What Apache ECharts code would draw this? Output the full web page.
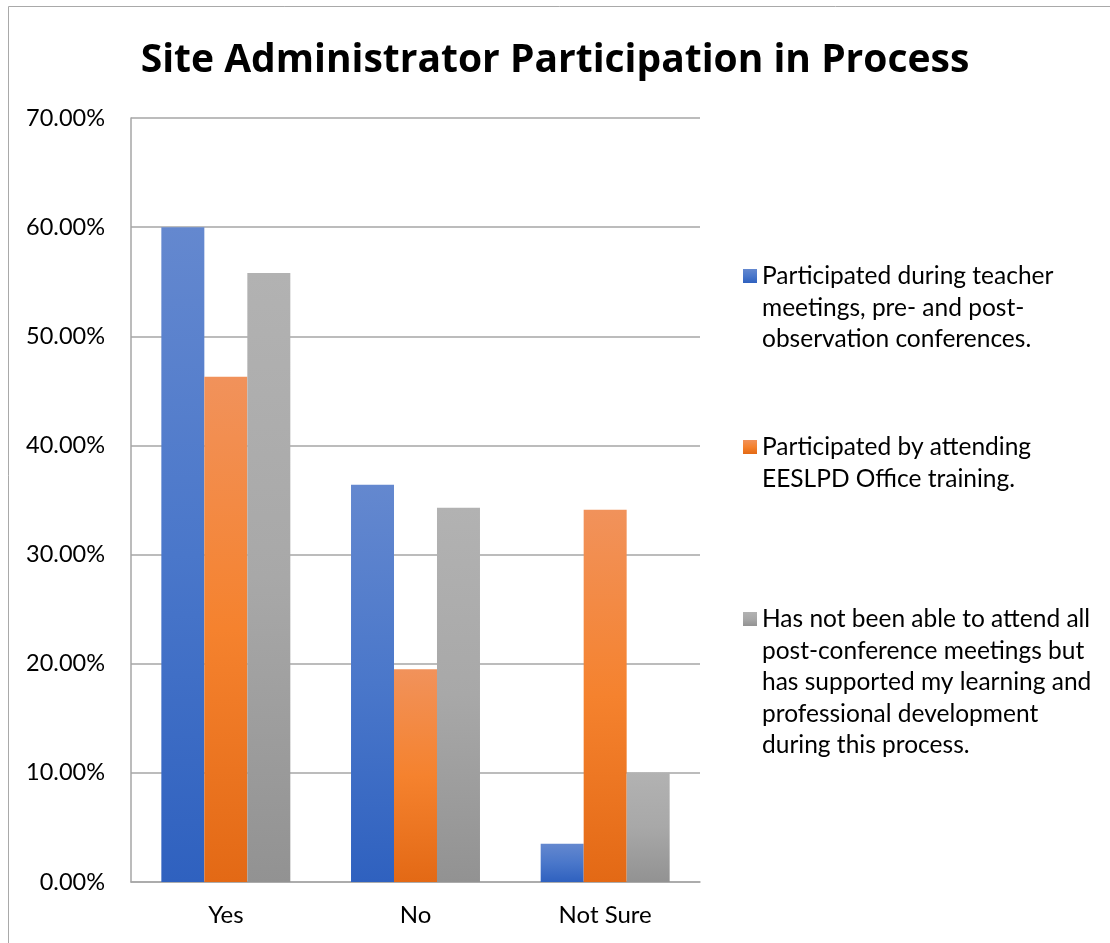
<!DOCTYPE html>
<html lang="en">
<head>
    <meta charset="UTF-8">
    <title>Site Administrator Participation in Process</title>
    <script src="https://cdn.jsdelivr.net/npm/echarts@6/dist/echarts.min.js"></script>
    <style>
        html, body {
            margin: 0;
            padding: 0;
            background: #fff;
        }
        #main {
            width: 1110px;
            height: 943px;
        }
    </style>
</head>
<body>
<div id="main"></div>
<script>
    // data (percent)
    var categories = ['Yes', 'No', 'Not Sure'];
    var meetingsVals = [60.0, 36.4, 3.5];
    var trainingVals = [46.3, 19.5, 34.1];
    var supportedVals = [55.8, 34.3, 10.0];
    var seriesNames = [
        'Participated during teacher meetings, pre- and post-observation conferences.',
        'Participated by attending EESLPD Office training.',
        'Has not been able to attend all post-conference meetings but has supported my learning and professional development during this process.'
    ];
    var legendLines = [
        ['Participated during teacher', 'meetings, pre- and post-', 'observation conferences.'],
        ['Participated by attending', 'EESLPD Office training.'],
        ['Has not been able to attend all', 'post-conference meetings but', 'has supported my learning and', 'professional development', 'during this process.']
    ];

    var font = 'Lato, "Open Sans", sans-serif';
    var lineH = 31.6;

    function grad(c0, c1, c2) {
        return new echarts.graphic.LinearGradient(0, 0, 0, 1, [
            {offset: 0, color: c0},
            {offset: 0.5, color: c1},
            {offset: 1, color: c2}
        ]);
    }
    var colors = [
        grad('#6488CF', '#4A77CA', '#2F61BF'),
        grad('#F1925B', '#F5822E', '#E36915'),
        grad('#B2B2B2', '#A8A8A8', '#929292')
    ];

    // icon sits on the first line: pad the block with empty lines above so it stays centred
    function makeLegend(i, iconMid) {
        var n = legendLines[i].length;
        var pad = [];
        for (var k = 1; k < n; k++) pad.push('');
        return {
            orient: 'vertical',
            left: 743,
            top: iconMid - (2 * n - 1) * lineH / 2,
            padding: 0,
            itemWidth: 14,
            itemHeight: 14,
            itemGap: 0,
            icon: 'rect',
            selectedMode: false,
            data: [seriesNames[i]],
            formatter: function () {
                return pad.concat(legendLines[i]).join('\n');
            },
            textStyle: {
                fontFamily: font,
                fontSize: 24.5,
                color: '#000',
                lineHeight: lineH
            }
        };
    }

    var chart = echarts.init(document.getElementById('main'));
    var option = {
        animation: false,
        backgroundColor: '#fff',
        title: {
            text: 'Site Administrator Participation in Process',
            left: 'center',
            top: 36,
            textStyle: {
                fontFamily: '"Open Sans", sans-serif',
                fontWeight: 'bold',
                fontSize: 39,
                color: '#000'
            }
        },
        graphic: [{
            type: 'rect',
            shape: {x: 8.5, y: 6.5, width: 1200, height: 1000},
            style: {fill: 'none', stroke: '#A9A9A9', lineWidth: 1}
        }],
        legend: [
            makeLegend(0, 276),
            makeLegend(1, 447),
            makeLegend(2, 619)
        ],
        grid: {
            left: 131,
            right: 410,
            top: 118,
            bottom: 61
        },
        xAxis: {
            type: 'category',
            data: categories,
            axisTick: {show: false},
            axisLine: {lineStyle: {color: '#A6A6A6', width: 1.5}},
            axisLabel: {
                fontFamily: font,
                fontSize: 24,
                color: '#000',
                margin: 21
            }
        },
        yAxis: {
            type: 'value',
            min: 0,
            max: 70,
            interval: 10,
            axisLine: {show: true, lineStyle: {color: '#A6A6A6', width: 1.5}},
            axisTick: {show: false},
            splitLine: {lineStyle: {color: '#A6A6A6', width: 1.5}},
            axisLabel: {
                fontFamily: font,
                fontSize: 23.5,
                color: '#000',
                margin: 26,
                formatter: function (v) {
                    return v.toFixed(2) + '%';
                }
            }
        },
        series: [
            {name: seriesNames[0], type: 'bar', data: meetingsVals, itemStyle: {color: colors[0]},
                barGap: '0%', barCategoryGap: '32%'},
            {name: seriesNames[1], type: 'bar', data: trainingVals, itemStyle: {color: colors[1]}},
            {name: seriesNames[2], type: 'bar', data: supportedVals, itemStyle: {color: colors[2]}}
        ]
    };
    chart.setOption(option);
</script>
</body>
</html>
